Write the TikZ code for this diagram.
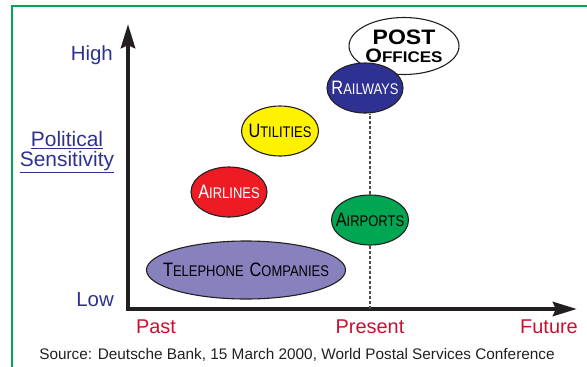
\documentclass[tikz,border=0pt]{standalone}
\usepackage{fontspec}
\setmainfont{Liberation Sans}
\newfontfamily\narrowfont[FakeStretch=0.84]{Liberation Sans}
\newfontfamily\widefont[FakeStretch=1.1]{Liberation Sans}
\usetikzlibrary{arrows.meta,shapes.geometric}

\definecolor{sensblue}{RGB}{46,49,146}
\definecolor{timered}{RGB}{200,16,46}
\definecolor{framegreen}{RGB}{0,166,81}
\definecolor{railblue}{RGB}{46,49,146}
\definecolor{utilyellow}{RGB}{255,242,0}
\definecolor{airlred}{RGB}{237,28,36}
\definecolor{airpgreen}{RGB}{0,166,81}
\definecolor{telelilac}{RGB}{135,129,189}
\definecolor{inkblack}{RGB}{35,31,32}

% big first letter, smaller rest
\newcommand{\sclab}[2]{{\fontsize{19.5}{20}\selectfont #1}{\fontsize{15.5}{16}\selectfont #2}}

\tikzset{
  ovalbase/.style={ellipse, draw=inkblack, line width=1.1bp, inner sep=0pt},
  % text kept out of the size, so the ellipse is set by minimum width/height
  sector/.style={ovalbase, font=\narrowfont,
    execute at begin node={\hbox to 0pt\bgroup\hss}, execute at end node={\hss\egroup}},
  axislbl/.style={text=sensblue, inner sep=0pt, font=\fontsize{20.5}{20}\selectfont},
  timelbl/.style={text=timered, inner sep=0pt, font=\fontsize{20}{20}\selectfont},
  axisline/.style={line width=4.5bp, draw=inkblack,
    {Stealth[length=24bp,width=14bp,inset=3bp]}-{Stealth[length=24bp,width=14bp,inset=3bp]}},
  presline/.style={draw=black!70, line width=1.2bp, dash pattern=on 3bp off 2bp},
}

\begin{document}
\begin{tikzpicture}[x=1bp,y=-1bp]
    \useasboundingbox (0,0) rectangle (587,366);
    \draw[framegreen, line width=2.2bp] (12,370) -- (12,6) -- (590,6);

    % axes
    \coordinate (origin) at (128,309);
    \coordinate (ytop) at (128,24);
    \coordinate (xend) at (577,309);
    \coordinate (now) at (370,309);
    \draw[axisline] (ytop) -- (origin) -- (xend);

    \node[axislbl, anchor=east] (high) at (113,55) {High};
    \node[axislbl, anchor=east] (low) at (114,300) {Low};
    \node[axislbl, align=center, font=\fontsize{21}{20}\selectfont] (sens) at (67,152) {\underline{Political}\\\underline{Sensitivity}};

    \node[timelbl] (past) at (156,327) {Past};
    \node[timelbl] (present) at (370,327) {Present};
    \node[timelbl, anchor=east] (future) at (578,327) {Future};

    % sectors
    \node[ovalbase, fill=white, minimum width=110bp, minimum height=57bp, align=center, font=\widefont\bfseries] (post) at (404,46)
        {\makebox[0pt]{\fontsize{21}{20}\selectfont POST}\\[3bp]\makebox[0pt]{\sclab{O}{FFICES}}};
    \node[sector, fill=railblue, text=white, minimum width=76bp, minimum height=50bp] (rail) at (365,88) {\sclab{R}{AILWAYS}};
    \node[sector, fill=utilyellow, minimum width=77bp, minimum height=50bp] (util) at (280,131) {\sclab{U}{TILITIES}};
    \node[sector, fill=airlred, text=white, minimum width=76bp, minimum height=50bp] (airl) at (229,192) {\sclab{A}{IRLINES}};
    \node[sector, fill=airpgreen, minimum width=77bp, minimum height=50bp] (airp) at (370,220) {\sclab{A}{IRPORTS}};
    \node[sector, fill=telelilac, minimum width=199bp, minimum height=58bp] (tele) at (246,270) {\sclab{T}{ELEPHONE}\hspace{6bp}\sclab{C}{OMPANIES}};

    \draw[presline] (airp.north) -- (rail.south -| airp.north);
    \draw[presline] (airp.south) -- (now);

    \node[text=inkblack, inner sep=0pt, font=\fontsize{15.4}{16}\selectfont] (src) at (297,355)
        {Source: Deutsche Bank, 15 March 2000, World Postal Services Conference};
\end{tikzpicture}
\end{document}
